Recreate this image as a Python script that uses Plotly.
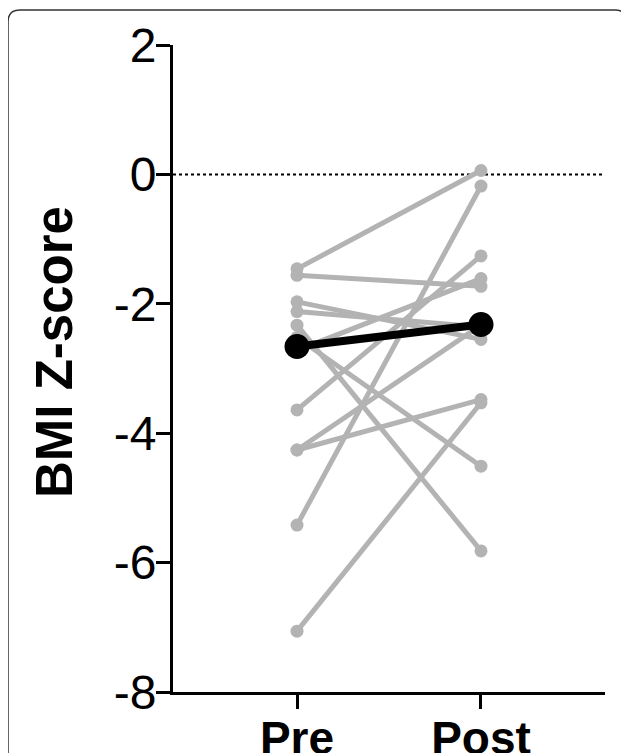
import plotly.graph_objects as go

# Data
categories = ["Pre", "Post"]
pre_values = [-1.46, -1.56, -1.97, -2.12, -2.33, -3.64, -4.26, -4.26, -5.42, -7.06, -2.52, -2.72]
post_values = [0.06, -1.73, -2.55, -2.36, -5.82, -1.26, -3.48, -2.33, -0.18, -3.53, -4.51, -1.61]
summary_values = [-2.66, -2.32]
y_ticks = [2, 0, -2, -4, -6, -8]
y_title = "BMI Z-score"

# page body has an 8px margin, so the figure starts at (8, 8)
OFF = 8
W, H = 629 - OFF, 753 - OFF
L, T = 173 - OFF, 45 - OFF
R = W - (605 - OFF)
B = H - (692 - OFF)
pw, ph = W - L - R, H - T - B

xpos = [0, 1]
fig = go.Figure()

for p, q in zip(pre_values, post_values):
    fig.add_trace(go.Scatter(
        x=xpos, y=[p, q], mode="lines+markers",
        line=dict(color="#b3b3b3", width=5),
        marker=dict(color="#b3b3b3", size=13),
        showlegend=False, hoverinfo="skip"))

fig.add_trace(go.Scatter(
    x=xpos, y=summary_values, mode="lines+markers",
    line=dict(color="black", width=8),
    marker=dict(color="black", size=25),
    showlegend=False))

font_family = "Arial, Liberation Sans, sans-serif"

fig.update_xaxes(
    range=[-0.674, 1.674], tickvals=xpos, ticktext=categories,
    showline=True, linecolor="black", linewidth=3,
    ticks="outside", ticklen=14, tickwidth=3, tickcolor="black",
    ticklabelstandoff=-10,
    tickfont=dict(family=font_family, size=46, color="black", weight="bold"),
    showgrid=False, zeroline=False, fixedrange=True)

fig.update_yaxes(
    range=[-8, 2], tickvals=y_ticks, ticktext=[str(v) for v in y_ticks],
    showline=True, linecolor="black", linewidth=3,
    ticks="outside", ticklen=14, tickwidth=3, tickcolor="black",
    ticklabelstandoff=-10,
    tickfont=dict(family=font_family, size=48, color="black"),
    showgrid=False, zeroline=False, fixedrange=True)

# dotted reference line at zero
fig.add_shape(type="line", xref="x domain", yref="y", x0=0, x1=1, y0=0, y1=0,
              line=dict(color="black", width=2, dash="dot"), layer="below")

# page pixel -> paper coordinate helpers
def px2x(px):
    return (px - OFF - L) / pw

def py2y(py):
    return (H - B - (py - OFF)) / ph

# y-axis title as rotated text
fig.add_annotation(text=f"<b>{y_title}</b>", textangle=-90, showarrow=False,
                   xref="paper", yref="paper", x=px2x(54), y=py2y(352),
                   xanchor="center", yanchor="middle",
                   font=dict(family=font_family, size=51, color="black"))

# rounded border around the figure panel
x0, x1 = px2x(8), px2x(627)
y0, y1 = py2y(10), py2y(790)
rx, ry = 12 / pw, 12 / ph
path = (f"M {x0},{y1} L {x0},{y0 - ry} Q {x0},{y0} {x0 + rx},{y0} "
        f"L {x1 - rx},{y0} Q {x1},{y0} {x1},{y0 - ry} L {x1},{y1}")
fig.add_shape(type="path", xref="paper", yref="paper", path=path,
              line=dict(color="#333333", width=1.5))

fig.update_layout(
    width=W, height=H,
    margin=dict(l=L, r=R, t=T, b=B, autoexpand=False),
    paper_bgcolor="white", plot_bgcolor="white",
    showlegend=False)

fig.write_html("out.html")
